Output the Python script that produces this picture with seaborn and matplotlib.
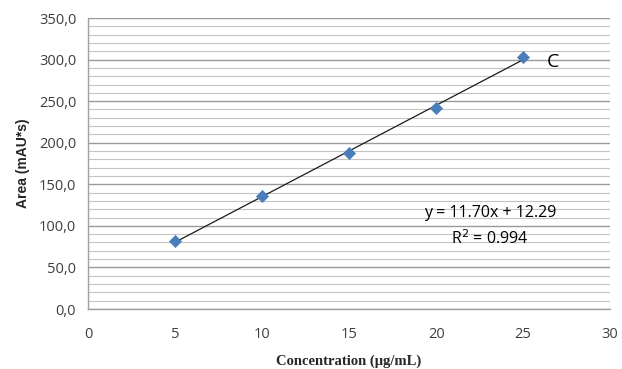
import numpy as np
import pandas as pd
import seaborn as sns
import matplotlib.pyplot as plt
from matplotlib.ticker import MultipleLocator, FuncFormatter

# dados
concentration = [5, 10, 15, 20, 25]
area = [81.5, 136.0, 188.0, 242.0, 303.0]
equation_text = "y = 11.70x + 12.29"
r2_text = "R$^2$ = 0.994"

df = pd.DataFrame({"conc": concentration, "area": area})

sns.set_style("white")
plt.rcParams["font.family"] = ["Open Sans", "DejaVu Sans"]

fig = plt.figure(figsize=(6.22, 3.69), dpi=100)
ax = fig.add_axes([0.1415, 0.1626, 0.8395, 0.7885])

# linha de tendência (regressão linear)
sns.regplot(data=df, x="conc", y="area", ax=ax, ci=None, scatter=False,
            truncate=True, line_kws={"color": "#1a1a1a", "lw": 0.9})
sns.scatterplot(data=df, x="conc", y="area", ax=ax, marker="D", s=38,
                color="#4a7ebb", edgecolor="#4a7ebb", zorder=3)

ax.set_xlim(0, 30)
ax.set_ylim(0, 350)
ax.xaxis.set_major_locator(MultipleLocator(5))
ax.yaxis.set_major_locator(MultipleLocator(50))
ax.yaxis.set_minor_locator(MultipleLocator(10))
ax.yaxis.set_major_formatter(FuncFormatter(lambda v, p: f"{v:.1f}".replace(".", ",")))

ax.grid(axis="y", which="major", color="#9a9a9a", lw=1.0)
ax.grid(axis="y", which="minor", color="#c4c4c4", lw=0.8)
ax.set_axisbelow(True)

for s in ["top", "right"]:
    ax.spines[s].set_visible(False)
for s in ["left", "bottom"]:
    ax.spines[s].set_color("#a0a0a0")
    ax.spines[s].set_linewidth(1.0)

ax.tick_params(axis="both", which="major", direction="out", length=5,
               color="#a0a0a0", labelsize=10.5, labelcolor="#404040")
ax.tick_params(axis="x", pad=8)
ax.tick_params(axis="y", which="minor", length=0)

ax.set_xlabel("Concentration (μg/mL)", fontsize=10.5, fontweight="bold",
              family=["Liberation Serif", "DejaVu Serif"], labelpad=9)
ax.set_ylabel("Area (mAU*s)", fontsize=10, fontweight="bold", labelpad=6,
              family=["Liberation Sans", "DejaVu Sans"])

ax.text(26.7, 297, "C", fontsize=14, color="black", va="center", ha="center")
ax.text(23.1, 115, equation_text, fontsize=11.5, color="black", ha="center", va="center")
ax.text(23.1, 85, r2_text, fontsize=11.5, color="black", ha="center", va="center")

plt.savefig("out.png", dpi=100)
